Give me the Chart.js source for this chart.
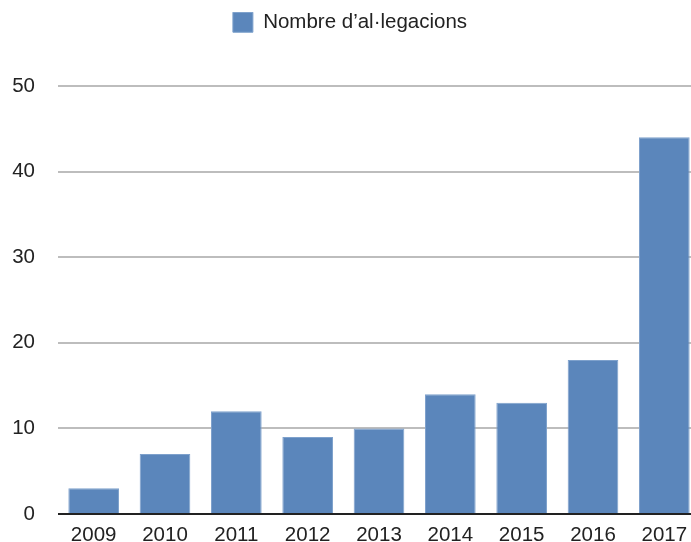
<!DOCTYPE html>
<html lang="ca">
<head>
<meta charset="UTF-8">
<title>Nombre d'al·legacions</title>
<script src="https://cdn.jsdelivr.net/npm/chart.js"></script>
<style>
  html, body { margin: 0; padding: 0; background: #fff; overflow: hidden; }
</style>
</head>
<body>
<canvas id="chart" width="700" height="552"></canvas>
<script>
const years = ['2009', '2010', '2011', '2012', '2013', '2014', '2015', '2016', '2017'];
const allegations = [3, 7, 12, 9, 10, 14, 13, 18, 44];
const seriesLabel = 'Nombre d\u2019al\u00b7legacions';

const FONT = 'Liberation Sans, Arial, sans-serif';

// extra space under the legend
const legendGap = {
  id: 'legendGap',
  beforeInit(chart) {
    const fit = chart.legend.fit;
    chart.legend.fit = function () {
      fit.bind(chart.legend)();
      this.height += 43.5;
    };
  }
};

new Chart(document.getElementById('chart'), {
  type: 'bar',
  data: {
    labels: years,
    datasets: [{
      label: seriesLabel,
      data: allegations,
      backgroundColor: '#5b86bb',
      borderColor: '#7ea1cc',
      borderWidth: 1,
      barPercentage: 0.71,
      categoryPercentage: 1.0
    }]
  },
  options: {
    responsive: false,
    animation: false,
    layout: { padding: { left: 0, right: 0, top: 12, bottom: 0 } },
    plugins: {
      legend: {
        display: true,
        labels: {
          boxWidth: 20, boxHeight: 20, padding: 0,
          color: '#222',
          font: { family: FONT, size: 20.5 }
        }
      },
      tooltip: { enabled: false }
    },
    scales: {
      x: {
        grid: { display: false, drawTicks: false },
        border: { display: false },
        afterFit: s => { s.height = 38; },
        ticks: {
          color: '#222', padding: 9,
          font: { family: FONT, size: 20.5 }
        }
      },
      y: {
        min: 0, max: 50,
        border: { display: false },
        afterFit: s => { s.width = 58; },
        grid: {
          drawTicks: false,
          lineWidth: 2,
          color: ctx => ctx.tick && ctx.tick.value === 0 ? '#222' : '#bdbdbd'
        },
        ticks: {
          stepSize: 10, padding: 23, color: '#222',
          font: { family: FONT, size: 20.5 }
        }
      }
    }
  },
  plugins: [legendGap]
});
</script>
</body>
</html>
